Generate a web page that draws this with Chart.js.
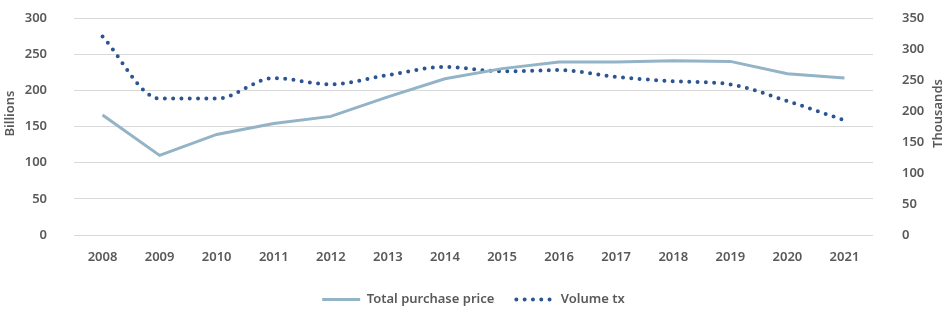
<!DOCTYPE html>
<html>
<head>
<meta charset="utf-8">
<title>Purchase price and volume</title>
<script src="https://cdn.jsdelivr.net/npm/chart.js@4/dist/chart.umd.min.js"></script>
<style>
  html, body { margin: 0; padding: 0; background: #ffffff; }
  .chart-wrap { width: 947px; height: 334px; position: relative; }
</style>
</head>
<body>
<div class="chart-wrap">
  <canvas id="priceChart"></canvas>
</div>
<script>
// Chart data
var years = ['2008', '2009', '2010', '2011', '2012', '2013', '2014', '2015', '2016', '2017', '2018', '2019', '2020', '2021'];
var totalPurchasePrice = [166, 110, 139, 154, 164, 191, 216, 230, 239, 239, 241, 240, 223, 217];
var volumeTx = [320, 220, 220, 253, 243, 258, 271, 264, 266, 255, 248, 243, 216, 185];
var leftTicks = [0, 50, 100, 150, 200, 250, 300];
var rightTicks = [0, 50, 100, 150, 200, 250, 300, 350];
var leftTitle = 'Billions';
var rightTitle = 'Thousands';

var textColor = '#595959';
var font = { family: '"Noto Sans", sans-serif', size: 13, weight: '600' };

// Both axis titles read bottom-to-top, so draw them here
var axisTitles = {
    id: 'axisTitles',
    afterDraw: function (chart) {
        var c = chart.ctx;
        var area = chart.chartArea;
        var midY = (area.top + area.bottom) / 2 - 13;
        c.save();
        c.fillStyle = textColor;
        c.font = font.weight + ' ' + font.size + 'px ' + font.family;
        c.textAlign = 'center';
        c.textBaseline = 'middle';

        c.save();
        c.translate(chart.scales.y.left + 10, midY);
        c.rotate(-Math.PI / 2);
        c.fillText(leftTitle, 0, 0);
        c.restore();

        c.save();
        c.translate(chart.scales.y1.right - 9, midY);
        c.rotate(-Math.PI / 2);
        c.fillText(rightTitle, 0, 0);
        c.restore();

        c.restore();
    }
};

document.addEventListener('DOMContentLoaded', function () {
    var ctx = document.getElementById('priceChart').getContext('2d');
    var priceChart = new Chart(ctx, {
        type: 'line',
        data: {
            labels: years,
            datasets: [
                {
                    label: 'Total purchase price',
                    data: totalPurchasePrice,
                    yAxisID: 'y',
                    borderColor: '#93b3c6',
                    backgroundColor: '#93b3c6',
                    borderWidth: 3,
                    pointRadius: 0,
                    tension: 0
                },
                {
                    label: 'Volume tx',
                    data: volumeTx,
                    yAxisID: 'y1',
                    borderColor: '#2b5592',
                    backgroundColor: '#2b5592',
                    borderWidth: 4,
                    borderDash: [0, 8.3],
                    borderCapStyle: 'round',
                    pointRadius: 0,
                    cubicInterpolationMode: 'monotone'
                }
            ]
        },
        plugins: [axisTitles],
        options: {
            responsive: true,
            maintainAspectRatio: false,
            animation: false,
            layout: {
                padding: { top: 18, left: 0, right: 0, bottom: 18 }
            },
            plugins: {
                legend: {
                    position: 'bottom',
                    labels: {
                        color: textColor,
                        font: font,
                        usePointStyle: true,
                        pointStyle: 'line',
                        pointStyleWidth: 38,
                        padding: 22,
                        generateLabels: function (chart) {
                            // keep the dash and width of each line in the legend sample
                            var items = Chart.defaults.plugins.legend.labels.generateLabels(chart);
                            items.forEach(function (item) {
                                var ds = chart.data.datasets[item.datasetIndex];
                                item.lineWidth = ds.borderWidth;
                                item.lineDash = ds.borderDash || [];
                                item.lineCap = ds.borderCapStyle || 'butt';
                                item.strokeStyle = ds.borderColor;
                            });
                            return items;
                        }
                    }
                },
                tooltip: { enabled: false }
            },
            scales: {
                x: {
                    offset: true,
                    afterFit: function (axis) {
                        axis.height = 36;
                    },
                    grid: { display: false, drawTicks: false },
                    border: { display: false },
                    ticks: { color: textColor, font: font, padding: 14, maxRotation: 0 }
                },
                y: {
                    position: 'left',
                    min: 0,
                    max: 300,
                    afterBuildTicks: function (axis) {
                        axis.ticks = leftTicks.map(function (v) { return { value: v }; });
                    },
                    afterFit: function (axis) {
                        axis.width = 74;
                        axis.paddingTop = 8;
                        axis.paddingBottom = 8;
                    },
                    grid: { color: '#d9d9d9', lineWidth: 1, drawTicks: false },
                    border: { display: false },
                    ticks: { color: textColor, font: font, padding: 27 }
                },
                y1: {
                    position: 'right',
                    min: 0,
                    max: 350,
                    afterBuildTicks: function (axis) {
                        axis.ticks = rightTicks.map(function (v) { return { value: v }; });
                    },
                    afterFit: function (axis) {
                        axis.width = 74;
                        axis.paddingTop = 8;
                        axis.paddingBottom = 8;
                    },
                    grid: { display: false, drawTicks: false },
                    border: { display: false },
                    ticks: { color: textColor, font: font, padding: 29 }
                }
            }
        }
    });
});
</script>
</body>
</html>
